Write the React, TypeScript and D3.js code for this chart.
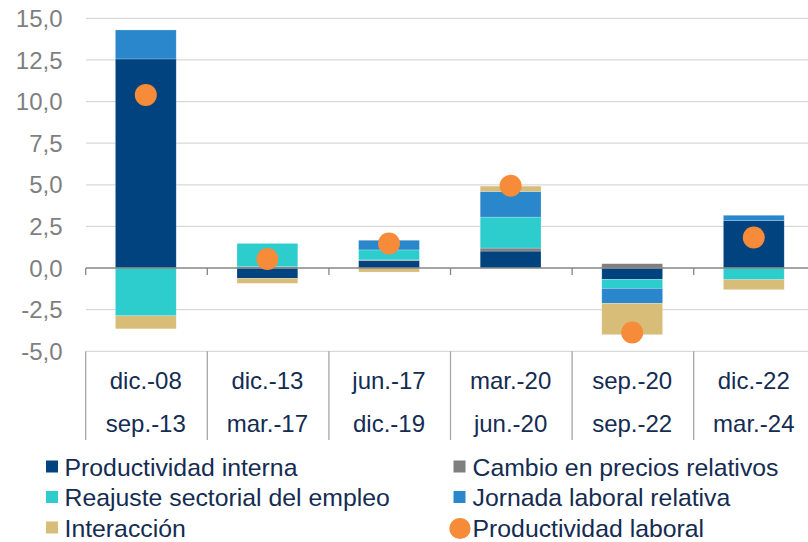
import { useMemo } from "react";
import * as d3 from "d3";

const periodsStart = ["dic.-08", "dic.-13", "jun.-17", "mar.-20", "sep.-20", "dic.-22"];
const periodsEnd = ["sep.-13", "mar.-17", "dic.-19", "jun.-20", "sep.-22", "mar.-24"];

const productividadInterna = [12.56, -0.62, 0.44, 1.02, -0.68, 2.85];
const cambioPrecios = [0, 0.08, 0.05, 0.18, 0.26, 0];
const reajusteSectorial = [-2.87, 1.4, 0.6, 1.86, -0.54, -0.7];
const jornadaLaboral = [1.74, 0, 0.58, 1.54, -0.9, 0.32];
const interaccion = [-0.78, -0.3, -0.24, 0.32, -1.88, -0.6];
const productividadLaboral = [10.4, 0.54, 1.47, 4.94, -3.87, 1.83];

const yTicks = [15, 12.5, 10, 7.5, 5, 2.5, 0, -2.5, -5];

const series = [
  { key: "interna", label: "Productividad interna", values: productividadInterna, color: "#00437f" },
  { key: "cambio", label: "Cambio en precios relativos", values: cambioPrecios, color: "#7f7f7f" },
  { key: "reajuste", label: "Reajuste sectorial del empleo", values: reajusteSectorial, color: "#2ecdcd" },
  { key: "jornada", label: "Jornada laboral relativa", values: jornadaLaboral, color: "#2b87cb" },
  { key: "interaccion", label: "Interacción", values: interaccion, color: "#d8bd78" },
];

const W = 808;
const H = 542;
const FONT = "'Liberation Sans', Arial, sans-serif";

type Row = Record<string, number> & { i: number };

export default function App() {
  const x0 = 85;
  const step = 121.6;
  const x = d3
    .scaleBand<string>()
    .domain(periodsStart)
    .range([x0, x0 + step * periodsStart.length])
    .paddingInner(0.5)
    .paddingOuter(0.25);
  const y = d3.scaleLinear().domain([-5, 15]).range([351.3, 18.3]);

  const stacked = useMemo(() => {
    const rows: Row[] = periodsStart.map((_, i) => {
      const r = { i } as Row;
      for (const s of series) r[s.key] = s.values[i];
      return r;
    });
    return d3
      .stack<Row>()
      .keys(series.map((s) => s.key))
      .offset(d3.stackOffsetDiverging)(rows);
  }, []);

  const legend = [
    [series[0], series[1]],
    [series[2], series[3]],
    [series[4], null],
  ];

  return (
    <svg
      width={W}
      height={H}
      style={{ position: "absolute", left: 0, top: 0, fontFamily: FONT }}
    >
      {/* grid */}
      {yTicks.map((t) => (
        <g key={t}>
          {t !== 0 && (
            <line x1={86} x2={W} y1={y(t)} y2={y(t)} stroke="#d9d9d9" strokeWidth={1.3} />
          )}
          <text
            x={62.5}
            y={y(t) + 8.6}
            textAnchor="end"
            fontSize={24}
            fill="#7f7f7f"
          >
            {t.toFixed(1).replace(".", ",")}
          </text>
        </g>
      ))}

      {/* bars */}
      {stacked.map((layer, li) => (
        <g key={layer.key} fill={series[li].color}>
          {layer.map((d, i) =>
            d[1] - d[0] === 0 ? null : (
              <rect
                key={i}
                x={x(periodsStart[i])}
                width={x.bandwidth()}
                y={y(d[1])}
                height={Math.abs(y(d[0]) - y(d[1]))}
                stroke="#ffffff"
                strokeOpacity={0.35}
                strokeWidth={0.6}
              />
            )
          )}
        </g>
      ))}

      {/* zero axis */}
      <line x1={86} x2={W} y1={y(0)} y2={y(0)} stroke="#868686" strokeWidth={1.5} />
      {d3.range(periodsStart.length + 1).map((k) => (
        <line
          key={k}
          x1={x0 + 0.7 + k * step}
          x2={x0 + 0.7 + k * step}
          y1={y(0)}
          y2={y(0) + 7}
          stroke="#868686"
          strokeWidth={1.3}
        />
      ))}

      {/* category separators */}
      {d3.range(periodsStart.length + 1).map((k) => (
        <line
          key={k}
          x1={x0 + 0.7 + k * step}
          x2={x0 + 0.7 + k * step}
          y1={y(-5)}
          y2={440}
          stroke="#a6a6a6"
          strokeWidth={1.3}
        />
      ))}
      {periodsStart.map((p, i) => {
        const cx = (x(p) ?? 0) + x.bandwidth() / 2;
        return (
          <g key={p} fontSize={24} fill="#142c52" textAnchor="middle">
            <text x={cx} y={389}>{p}</text>
            <text x={cx} y={431.5}>{periodsEnd[i]}</text>
          </g>
        );
      })}

      {/* dots */}
      {productividadLaboral.map((v, i) => (
        <circle
          key={i}
          cx={(x(periodsStart[i]) ?? 0) + x.bandwidth() / 2}
          cy={y(v)}
          r={11}
          fill="#f68b3a"
        />
      ))}

      {/* legend */}
      {legend.map((row, r) => {
        const base = 475.5 + r * 30.5;
        return (
          <g key={r} fontSize={24.8} fill="#142c52">
            {row.map((s, c) => {
              const mx = c === 0 ? 46 : 453.5;
              const tx = c === 0 ? 64.5 : 472.5;
              if (!s) {
                return (
                  <g key="dot">
                    <circle cx={460} cy={base - 8} r={10.6} fill="#f68b3a" />
                    <text x={tx} y={base}>Productividad laboral</text>
                  </g>
                );
              }
              return (
                <g key={s.key}>
                  <rect x={mx} y={base - 15} width={12} height={12} fill={s.color} />
                  <text x={tx} y={base}>{s.label}</text>
                </g>
              );
            })}
          </g>
        );
      })}
    </svg>
  );
}
